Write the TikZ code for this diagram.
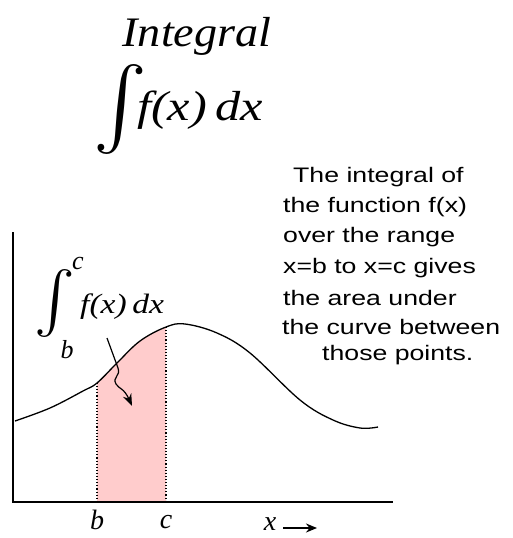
\documentclass[tikz,border=0pt]{standalone}
\usepackage{fontspec}
\setmainfont{Liberation Serif}
\newfontfamily\helv[FakeStretch=1.27]{Liberation Sans}
\usetikzlibrary{arrows.meta}
\definecolor{areapink}{RGB}{255,204,204}
\tikzset{
  expl/.style={anchor=west,inner sep=0pt,font=\helv\fontsize{21}{24}\selectfont},
  ital/.style={inner sep=0pt,font=\itshape\fontsize{28}{30}\selectfont},
  dotline/.style={line width=1.1pt,dotted},
  axis/.style={line width=1.6pt},
}
\begin{document}
\begin{tikzpicture}[x=1pt,y=-1pt]
\useasboundingbox (0,0) rectangle (513,538);
% title
\node[inner sep=0pt,anchor=base] (title) at (197,46) {\scalebox{1.1}[1]{\itshape\fontsize{42}{46}\selectfont Integral}};
\node[inner sep=0pt] (bigint) at (121,110) {\resizebox*{!}{90pt}{$\int$}};
\node[inner sep=0pt,anchor=base west] (bigf) at (137,120) {\scalebox{1.2}[1]{\itshape\fontsize{42}{46}\selectfont f(x)\,dx}};
% explanation
\node[expl] (l1) at (293,177) {The integral of};
\node[expl] (l2) at (283,207) {the function f(x)};
\node[expl] (l3) at (283,237) {over the range};
\node[expl] (l4) at (283,268) {x=b to x=c gives};
\node[expl] (l5) at (283,298) {the area under};
\node[expl] (l6) at (282,327) {the curve between};
\node[expl] (l7) at (322,355) {those points.};
% curve definition
\def\curvepts{(15,421) (50,408) (83,391) (97,383) (117,363) (140,341) (166,327) (185,324) (217,333) (250,353) (300,400) (333,420) (360,428) (378,427)}
% fill
\begin{scope}
\clip plot[smooth,tension=0.6] coordinates {\curvepts} -- (378,502) -- (15,502) -- cycle;
\fill[areapink] (97,300) rectangle (166,502);
\end{scope}
\coordinate (pb) at (97,383);
\coordinate (pc) at (166,327);
\coordinate (ab) at (97,502);
\coordinate (ac) at (166,502);
\draw[dotline] (pb) -- (ab);
\draw[dotline] (pc) -- (ac);
\draw[line width=1.3pt] plot[smooth,tension=0.6] coordinates {\curvepts};
% axes
\coordinate (top) at (13,232);
\coordinate (orig) at (13,502);
\coordinate (right) at (393,502);
\draw[axis] (top) -- (orig) -- (right);
% small integral
\node[inner sep=0pt] (smint) at (55,304) {\resizebox*{!}{68pt}{$\int$}};
\node[ital,font=\itshape\fontsize{26}{28}\selectfont] (uc) at (78,263) {c};
\node[ital,font=\itshape\fontsize{26}{28}\selectfont] (lb) at (67,350) {b};
\node[inner sep=0pt,anchor=base west] (smf) at (80,313) {\scalebox{1.2}[1]{\itshape\fontsize{28}{30}\selectfont f(x)\,dx}};
% squiggle arrow
\coordinate (s0) at (107,338);
\coordinate (s1) at (118,368);
\coordinate (s2) at (132,406);
\draw[line width=1.2pt,-{Stealth[length=12pt,width=9pt]}] (s0) -- (s1) .. controls (121,376) and (112,377) .. (116,384) .. controls (119,389) and (124,388) .. (s2);
% bottom labels
\node[ital] (tb) at (97,520) {b};
\node[ital] (tc) at (166,522) {c};
\node[ital] (tx) at (270,524) {x};
\coordinate (xa) at (283,528);
\coordinate (xb) at (317,528);
\draw[line width=1.8pt,-{Stealth[length=11pt,width=9pt]}] (xa) -- (xb);
\end{tikzpicture}
\end{document}
